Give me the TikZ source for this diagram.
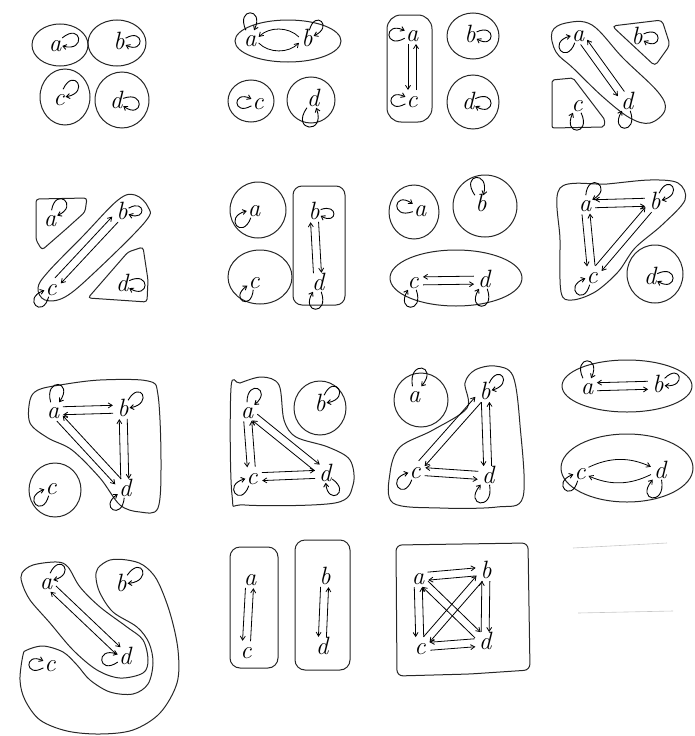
\documentclass[tikz,border=0pt]{standalone}
\usetikzlibrary{arrows.meta,calc}
\newcommand\arL[2]{\draw[dg] ($(#1)!4pt!90:(#2)$) -- ($(#2)!4pt!-90:(#1)$);}
\newcommand\arR[2]{\draw[dg] ($(#1)!4pt!-90:(#2)$) -- ($(#2)!4pt!90:(#1)$);}
\begin{document}
\begin{tikzpicture}[x=1pt,y=1pt,
  rg/.style={draw=black!85, line width=1pt},
  lb/.style={font=\fontsize{25}{25}\selectfont\itshape, inner sep=0.8pt, text height=15pt, text depth=0.5pt},
  lp/.style={-{Straight Barb[length=3.5pt,width=5pt]}, line width=0.9pt, looseness=8, min distance=12pt},
  ar/.style={-{Straight Barb[length=4pt,width=5pt]}, line width=0.8pt, shorten <=2pt, shorten >=2pt},
  dg/.style={-{Straight Barb[length=4pt,width=5pt]}, line width=0.8pt, shorten <=10pt, shorten >=10pt},
  faint/.style={draw=black!22, line width=0.6pt}]
\useasboundingbox (0,0) rectangle (695,-736);

% ---------- Panel 1 ----------
\draw[rg] (60,-45) ellipse [x radius=28, y radius=21];
\draw[rg] (117,-43) ellipse [x radius=29, y radius=23];
\draw[rg] (65,-97) ellipse [x radius=25, y radius=28];
\draw[rg] (122,-100) ellipse [x radius=27, y radius=28];
\node[lb] (p1a) at (55,-44) {a};
\node[lb] (p1b) at (119,-42) {b};
\node[lb] (p1c) at (59,-98) {c};
\node[lb] (p1d) at (116,-101) {d};
\draw[lp] (p1a) to[out=40,in=-15] (p1a);
\draw[lp] (p1b) to[out=30,in=-25] (p1b);
\draw[lp] (p1c) to[out=65,in=10] (p1c);
\draw[lp] (p1d) to[out=20,in=-35] (p1d);

% ---------- Panel 2 ----------
\draw[rg] (288,-41) ellipse [x radius=53, y radius=21];
\draw[rg] (251,-101) ellipse [x radius=23, y radius=21];
\draw[rg] (311,-100) ellipse [x radius=24, y radius=23];
\node[lb] (p2a) at (250,-39) {a};
\node[lb] (p2b) at (307,-39) {b};
\node[lb] (p2c) at (258,-102) {c};
\node[lb] (p2d) at (313,-99) {d};
\draw[ar] (p2b.175) to[bend right=45] (p2a.5);
\draw[ar] (p2a.-20) to[bend right=45] (p2b.-160);
\draw[lp] (p2a) to[out=115,in=65] (p2a);
\draw[lp] (p2b) to[out=75,in=25] (p2b);
\draw[lp] (p2c) to[out=210,in=155] (p2c);
\draw[lp] (p2d) to[out=235,in=290] (p2d);

% ---------- Panel 3 ----------
\draw[rg, rounded corners=14pt] (387,-15) rectangle (432,-122);
\draw[rg] (473,-36) ellipse [x radius=26, y radius=23];
\draw[rg] (473,-102) ellipse [x radius=26, y radius=27];
\node[lb] (p3a) at (412,-34) {a};
\node[lb] (p3c) at (412,-100) {c};
\node[lb] (p3b) at (470,-35) {b};
\node[lb] (p3d) at (468,-102) {d};
\arR{p3a}{p3c}
\arR{p3c}{p3a}
\draw[lp] (p3a) to[out=210,in=155] (p3a);
\draw[lp] (p3c) to[out=210,in=155] (p3c);
\draw[lp] (p3b) to[out=25,in=-30] (p3b);
\draw[lp] (p3d) to[out=25,in=-30] (p3d);

% ---------- Panel 4 ----------
\draw[rg] plot[smooth cycle, tension=0.6] coordinates {(552,-32) (566,-23) (592,-25) (623,-58) (658,-92) (665,-110) (650,-123) (630,-118) (603,-97) (573,-68) (556,-52)};
\draw[rg, rounded corners=4pt] (612,-26) -- (662,-20) -- (670,-45) -- (655,-66) -- cycle;
\draw[rg, rounded corners=2pt] (552,-80) -- (573,-78) -- (605,-120) -- (604,-127) -- (552,-128) -- cycle;
\node[lb] (p4a) at (578,-34) {a};
\node[lb] (p4d) at (627,-102) {d};
\node[lb] (p4b) at (637,-37) {b};
\node[lb] (p4c) at (577,-104) {c};
\arR{p4a}{p4d}
\arR{p4d}{p4a}
\draw[lp] (p4a) to[out=250,in=195] (p4a);
\draw[lp] (p4d) to[out=290,in=240] (p4d);
\draw[lp] (p4b) to[out=25,in=-30] (p4b);
\draw[lp] (p4c) to[out=295,in=245] (p4c);

% ---------- Panel 5 ----------
\draw[rg, rounded corners=3pt] (36,-199) -- (87,-198) -- (85,-212) -- (65,-230) -- (42,-250) -- (36,-240) -- cycle;
\draw[rg] plot[smooth cycle, tension=0.6] coordinates {(118,-200) (135,-195) (148,-207) (145,-222) (95,-272) (65,-297) (45,-300) (38,-288) (48,-272) (83,-236)};
\draw[rg, rounded corners=3pt] (88,-298) -- (128,-252) -- (143,-247) -- (148,-280) -- (147,-302) -- cycle;
\node[lb] (p5a) at (50,-219) {a};
\node[lb] (p5b) at (122,-212) {b};
\node[lb] (p5c) at (51,-288) {c};
\node[lb] (p5d) at (122,-284) {d};
\arL{p5c}{p5b}
\arL{p5b}{p5c}
\draw[lp] (p5a) to[out=80,in=25] (p5a);
\draw[lp] (p5b) to[out=30,in=-20] (p5b);
\draw[lp] (p5c) to[out=255,in=200] (p5c);
\draw[lp] (p5d) to[out=25,in=-30] (p5d);

% ---------- Panel 6 ----------
\draw[rg] (258,-210) ellipse [x radius=28, y radius=28];
\draw[rg] (260,-277) ellipse [x radius=32, y radius=27];
\draw[rg, rounded corners=9pt] (293,-186) rectangle (345,-305);
\node[lb] (p6a) at (254,-209) {a};
\node[lb] (p6c) at (254,-281) {c};
\node[lb] (p6b) at (314,-212) {b};
\node[lb] (p6d) at (318,-283) {d};
\arL{p6d}{p6b}
\arL{p6b}{p6d}
\draw[lp] (p6a) to[out=250,in=195] (p6a);
\draw[lp] (p6c) to[out=265,in=215] (p6c);
\draw[lp] (p6b) to[out=20,in=-30] (p6b);
\draw[lp] (p6d) to[out=290,in=240] (p6d);

% ---------- Panel 7 ----------
\draw[rg] (414,-212) ellipse [x radius=25, y radius=27];
\draw[rg] (485,-206) ellipse [x radius=32, y radius=31];
\draw[rg] (456,-278) ellipse [x radius=66, y radius=28];
\node[lb] (p7a) at (420,-209) {a};
\node[lb] (p7b) at (481,-204) {b};
\node[lb] (p7c) at (413,-281) {c};
\node[lb] (p7d) at (484,-280) {d};
\arR{p7d}{p7c}
\arR{p7c}{p7d}
\draw[lp] (p7a) to[out=200,in=145] (p7a);
\draw[lp] (p7b) to[out=125,in=75] (p7b);
\draw[lp] (p7c) to[out=290,in=240] (p7c);
\draw[lp] (p7d) to[out=290,in=240] (p7d);

% ---------- Panel 8 ----------
\draw[rg] plot[smooth cycle, tension=0.55] coordinates {(560,-188) (607,-184) (650,-180) (678,-183) (685,-200) (662,-225) (635,-248) (618,-272) (595,-292) (572,-300) (561,-292) (560,-240)};
\draw[rg] (655,-274) ellipse [x radius=28, y radius=29];
\node[lb] (p8a) at (585,-204) {a};
\node[lb] (p8b) at (655,-202) {b};
\node[lb] (p8c) at (592,-276) {c};
\node[lb] (p8d) at (650,-277) {d};
\arR{p8b}{p8a}
\arR{p8a}{p8b}
\arR{p8a}{p8c}
\arR{p8c}{p8a}
\arL{p8c}{p8b}
\arL{p8b}{p8c}
\draw[lp] (p8a) to[out=85,in=30] (p8a);
\draw[lp] (p8b) to[out=65,in=15] (p8b);
\draw[lp] (p8c) to[out=255,in=200] (p8c);
\draw[lp] (p8d) to[out=25,in=-30] (p8d);

% ---------- Panel 9 ----------
\draw[rg] plot[smooth cycle, tension=0.55] coordinates {(30,-400) (30,-423) (48,-438) (72,-450) (100,-478) (120,-505) (140,-512) (158,-508) (161,-460) (158,-395) (148,-381) (100,-380) (60,-385) (38,-390)};
\draw[rg] (55,-490) ellipse [x radius=26, y radius=27];
\node[lb] (p9a) at (53,-411) {a};
\node[lb] (p9b) at (123,-409) {b};
\node[lb] (p9d) at (125,-489) {d};
\node[lb] (p9c) at (51,-487) {c};
\arL{p9a}{p9b}
\arL{p9b}{p9a}
\arL{p9d}{p9b}
\arL{p9b}{p9d}
\arR{p9d}{p9a}
\arR{p9a}{p9d}
\draw[lp] (p9a) to[out=105,in=55] (p9a);
\draw[lp] (p9b) to[out=60,in=10] (p9b);
\draw[lp] (p9d) to[out=265,in=215] (p9d);
\draw[lp] (p9c) to[out=255,in=200] (p9c);

% ---------- Panel 10 ----------
\draw[rg] plot[smooth cycle, tension=0.55] coordinates {(231,-388) (232,-495) (245,-505) (335,-503) (353,-485) (350,-460) (328,-447) (296,-437) (284,-420) (279,-385) (262,-377) (240,-383)};
\draw[rg] (320,-408) ellipse [x radius=26, y radius=27];
\node[lb] (p10a) at (247,-411) {a};
\node[lb] (p10c) at (252,-477) {c};
\node[lb] (p10d) at (325,-474) {d};
\node[lb] (p10b) at (320,-404) {b};
\arR{p10a}{p10c}
\arR{p10c}{p10a}
\arL{p10c}{p10d}
\arL{p10d}{p10c}
\arL{p10a}{p10d}
\arL{p10d}{p10a}
\draw[lp] (p10a) to[out=90,in=40] (p10a);
\draw[lp] (p10c) to[out=250,in=195] (p10c);
\draw[lp] (p10d) to[out=325,in=275] (p10d);
\draw[lp] (p10b) to[out=65,in=10] (p10b);

% ---------- Panel 11 ----------
\draw[rg] (421,-400) ellipse [x radius=27, y radius=27];
\draw[rg] plot[smooth cycle, tension=0.55] coordinates {(467,-408) (465,-383) (475,-370) (495,-366) (513,-376) (520,-425) (523,-497) (497,-507) (440,-508) (393,-503) (390,-473) (400,-447) (433,-430)};
\node[lb] (p11a) at (414,-395) {a};
\node[lb] (p11b) at (485,-392) {b};
\node[lb] (p11c) at (415,-471) {c};
\node[lb] (p11d) at (488,-476) {d};
\arL{p11c}{p11b}
\arL{p11b}{p11c}
\arR{p11b}{p11d}
\arR{p11d}{p11b}
\arR{p11d}{p11c}
\arR{p11c}{p11d}
\draw[lp] (p11a) to[out=100,in=50] (p11a);
\draw[lp] (p11b) to[out=65,in=15] (p11b);
\draw[lp] (p11c) to[out=250,in=195] (p11c);
\draw[lp] (p11d) to[out=280,in=230] (p11d);

% ---------- Panel 12 ----------
\draw[rg] (627,-386) ellipse [x radius=65, y radius=26];
\draw[rg] (627,-468) ellipse [x radius=66, y radius=34];
\node[lb] (p12a) at (587,-387) {a};
\node[lb] (p12b) at (658,-385) {b};
\node[lb] (p12c) at (580,-472) {c};
\node[lb] (p12d) at (660,-471) {d};
\arR{p12b}{p12a}
\arR{p12a}{p12b}
\draw[ar] (p12c.30) to[bend left=25] (p12d.155);
\draw[ar] (p12d.-160) to[bend left=25] (p12c.-25);
\draw[lp] (p12a) to[out=115,in=65] (p12a);
\draw[lp] (p12b) to[out=45,in=-5] (p12b);
\draw[lp] (p12c) to[out=255,in=200] (p12c);
\draw[lp] (p12d) to[out=280,in=230] (p12d);

% ---------- Panel 13 ----------
\draw[rg] plot[smooth cycle, tension=0.55] coordinates {(22,-573) (33,-565) (57,-562) (68,-567) (80,-587) (100,-607) (127,-627) (143,-640) (148,-660) (143,-673) (120,-678) (97,-670) (73,-650) (50,-623) (30,-600) (22,-583)};
\draw[rg] plot[smooth cycle, tension=0.55] coordinates {(98,-568) (110,-560) (127,-560) (143,-565) (157,-580) (170,-613) (178,-650) (177,-683) (160,-713) (133,-730) (100,-734) (67,-731) (40,-720) (25,-700) (20,-680) (23,-655) (27,-650) (43,-646) (63,-652) (77,-665) (90,-680) (110,-692) (133,-694) (148,-684) (153,-663) (149,-643) (137,-627) (113,-612) (100,-593) (96,-578)};
\node[lb] (p13a) at (46,-582) {a};
\node[lb] (p13b) at (121,-584) {b};
\node[lb] (p13c) at (50,-664) {c};
\node[lb] (p13d) at (125,-657) {d};
\arL{p13a}{p13d}
\arL{p13d}{p13a}
\draw[lp] (p13a) to[out=65,in=15] (p13a);
\draw[lp] (p13b) to[out=55,in=5] (p13b);
\draw[lp] (p13c) to[out=210,in=155] (p13c);
\draw[lp] (p13d) to[out=215,in=160] (p13d);

% ---------- Panel 14 ----------
\draw[rg, rounded corners=10pt] (230,-547) rectangle (278,-668);
\draw[rg, rounded corners=10pt] (295,-540) rectangle (350,-670);
\node[lb] (p14a) at (250,-578) {a};
\node[lb] (p14c) at (246,-651) {c};
\node[lb] (p14b) at (325,-577) {b};
\node[lb] (p14d) at (322,-647) {d};
\arR{p14a}{p14c}
\arR{p14c}{p14a}
\arR{p14b}{p14d}
\arR{p14d}{p14b}

% ---------- Panel 15 ----------
\draw[rg, rounded corners=6pt] (396,-545) -- (528,-543) -- (530,-670) -- (470,-674) -- (397,-676) -- cycle;
\node[lb] (p15a) at (418,-577) {a};
\node[lb] (p15b) at (486,-571) {b};
\node[lb] (p15c) at (420,-647) {c};
\node[lb] (p15d) at (485,-642) {d};
\arL{p15a}{p15b}
\arL{p15b}{p15a}
\arR{p15d}{p15c}
\arR{p15c}{p15d}
\arR{p15a}{p15c}
\arR{p15c}{p15a}
\arL{p15d}{p15b}
\arL{p15b}{p15d}
\arL{p15a}{p15d}
\arL{p15d}{p15a}
\arL{p15b}{p15c}
\arL{p15c}{p15b}

% ---------- faint lines ----------
\draw[faint] (573,-548) -- (667,-543);
\draw[faint] (578,-613) -- (673,-611);
\end{tikzpicture}
\end{document}
